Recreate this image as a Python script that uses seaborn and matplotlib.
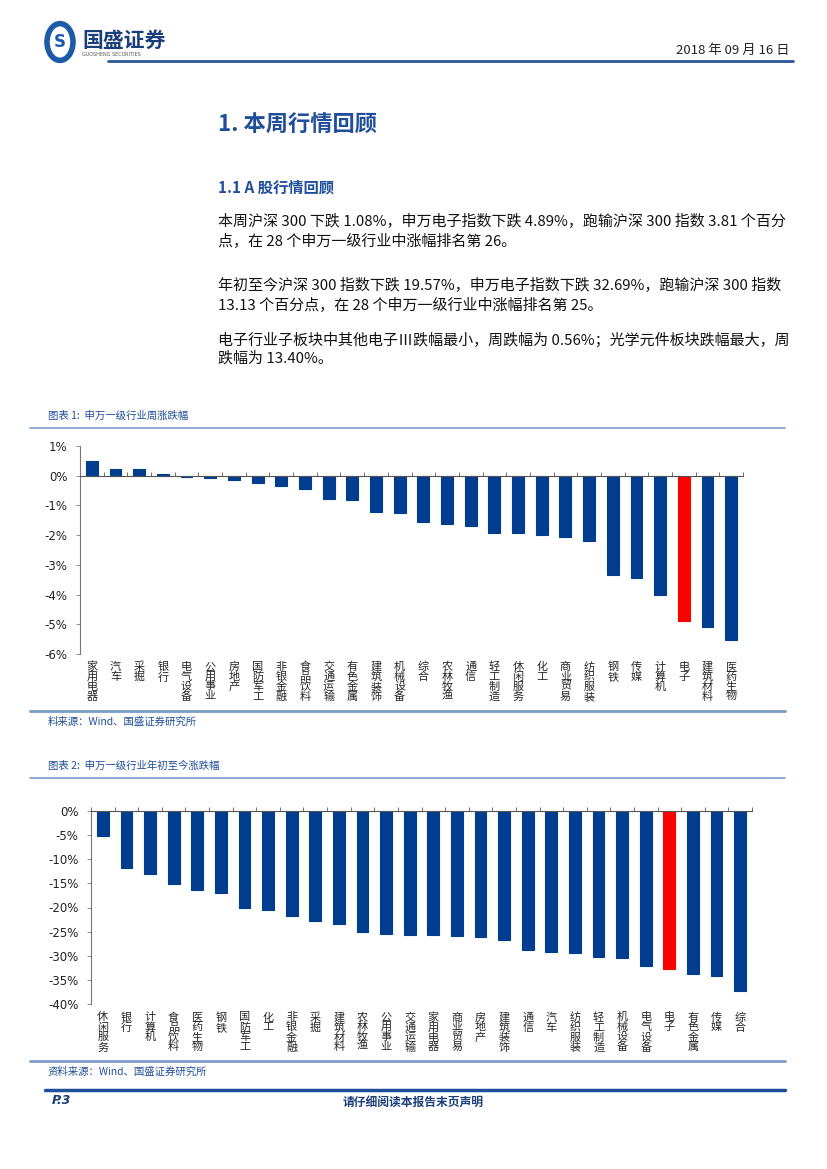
import numpy as np
import pandas as pd
import seaborn as sns
import matplotlib.pyplot as plt
from matplotlib.lines import Line2D
from matplotlib.patches import Circle

# ---- data ----
week_names = ['家用电器', '汽车', '采掘', '银行', '电气设备', '公用事业', '房地产', '国防军工',
              '非银金融', '食品饮料', '交通运输', '有色金属', '建筑装饰', '机械设备', '综合',
              '农林牧渔', '通信', '轻工制造', '休闲服务', '化工', '商业贸易', '纺织服装',
              '钢铁', '传媒', '计算机', '电子', '建筑材料', '医药生物']
week_chg = [0.48, 0.24, 0.22, 0.05, -0.05, -0.07, -0.14, -0.23, -0.34, -0.45, -0.78, -0.82,
            -1.21, -1.26, -1.57, -1.63, -1.70, -1.93, -1.94, -2.00, -2.05, -2.21,
            -3.35, -3.44, -4.03, -4.89, -5.08, -5.52]

ytd_names = ['休闲服务', '银行', '计算机', '食品饮料', '医药生物', '钢铁', '国防军工', '化工',
             '非银金融', '采掘', '建筑材料', '农林牧渔', '公用事业', '交通运输', '家用电器',
             '商业贸易', '房地产', '建筑装饰', '通信', '汽车', '纺织服装', '轻工制造',
             '机械设备', '电气设备', '电子', '有色金属', '传媒', '综合']
ytd_chg = [-5.1, -11.9, -13.0, -15.1, -16.4, -17.0, -20.1, -20.6, -21.8, -22.9, -23.4, -25.0,
           -25.5, -25.8, -25.8, -26.0, -26.2, -26.7, -28.9, -29.2, -29.4, -30.2, -30.5,
           -32.2, -32.69, -33.7, -34.1, -37.4]

week_ticks = [1, 0, -1, -2, -3, -4, -5, -6]
ytd_ticks = [0, -5, -10, -15, -20, -25, -30, -35, -40]

BLUE = '#003D8F'
RED = '#FF0000'
TXT_BLUE = '#1F4E9A'
LINE_BLUE = '#7A9CC6'

sns.set_style("white")
plt.rcParams['font.family'] = ['Noto Sans CJK SC', 'DejaVu Sans']

W, H = 827, 1169
fig = plt.figure(figsize=(W / 100, H / 100), dpi=100)


def fx(x):
    return x / W


def fy(y):
    return 1 - y / H


def hline(x0, x1, y, color, lw):
    fig.add_artist(Line2D([fx(x0), fx(x1)], [fy(y), fy(y)], color=color, lw=lw,
                          transform=fig.transFigure))


def text(x, y, s, **kw):
    fig.text(fx(x), fy(y), s, **kw)


# ---- header ----
fig.add_artist(Circle((fx(60), fy(42)), 13 / W, transform=fig.transFigure,
                      facecolor='white', edgecolor='#1B5BA8', lw=4))
text(60, 42, 'S', ha='center', va='center', fontsize=12, fontweight='bold',
     color='#1B5BA8', family='DejaVu Sans')
text(82, 40, '国盛证券', ha='left', va='center', fontsize=15, fontweight='bold', color='#1A3E7A')
text(82, 54, 'GUOSHENG SECURITIES', ha='left', va='center', fontsize=3.5, color='#555555',
     family='DejaVu Sans')
text(790, 50, '2018 年 09 月 16 日', ha='right', va='center', fontsize=9.5, color='#222222')
hline(108, 793, 61, '#2E5597', 2)

# ---- headings and paragraphs ----
text(218, 125, '1. 本周行情回顾', ha='left', va='center', fontsize=16, fontweight='bold', color=TXT_BLUE)
text(218, 188, '1.1 A 股行情回顾', ha='left', va='center', fontsize=11, fontweight='bold', color=TXT_BLUE)

para = [
    (222, '本周沪深 300 下跌 1.08%，申万电子指数下跌 4.89%，跑输沪深 300 指数 3.81 个百分'),
    (241, '点，在 28 个申万一级行业中涨幅排名第 26。'),
    (286, '年初至今沪深 300 指数下跌 19.57%，申万电子指数下跌 32.69%，跑输沪深 300 指数'),
    (305, '13.13 个百分点，在 28 个申万一级行业中涨幅排名第 25。'),
    (340, '电子行业子板块中其他电子Ⅲ跌幅最小，周跌幅为 0.56%；光学元件板块跌幅最大，周'),
    (358, '跌幅为 13.40%。'),
]
for y, s in para:
    text(218, y, s, ha='left', va='center', fontsize=10.8, color='#111111')


def bar_chart(left, right, top, bottom, names, vals, ylim, ticks, pad):
    ax = fig.add_axes([fx(left), fy(bottom), fx(right) - fx(left), (bottom - top) / H])
    df = pd.DataFrame({'name': names, 'val': vals})
    pal = {n: (RED if n == '电子' else BLUE) for n in names}
    sns.barplot(data=df, x='name', y='val', hue='name', palette=pal, legend=False,
                width=0.5, saturation=1, linewidth=0.8, ax=ax)
    for p in ax.patches:
        p.set_edgecolor(p.get_facecolor())
    ax.set_xlim(-0.5, len(names) - 0.5)
    ax.set_ylim(*ylim)
    ax.set_yticks(ticks)
    ax.set_yticklabels([f'{t}%' for t in ticks], family='DejaVu Sans', fontsize=8.5, color='#222222')
    ax.set_xticks(range(len(names)))
    ax.set_xticklabels(['\n'.join(n) for n in names], va='top', color='#222222')
    ax.set_xlabel('')
    ax.set_ylabel('')
    for s in ['top', 'right']:
        ax.spines[s].set_visible(False)
    ax.spines['bottom'].set_position(('data', 0))
    ax.spines['bottom'].set_color('#555555')
    ax.spines['bottom'].set_linewidth(0.8)
    ax.spines['left'].set_color('#777777')
    ax.spines['left'].set_linewidth(0.8)
    ax.set_xticks(np.arange(-0.5, len(names)), minor=True)
    ax.tick_params(axis='x', which='major', length=0, pad=pad)
    ax.tick_params(axis='x', which='minor', direction='in', length=3, width=0.6, color='#555555',
                   bottom=True)
    ax.tick_params(axis='y', direction='out', length=3, width=0.6, color='#777777', left=True, pad=6)
    ax.grid(False)
    for lbl in ax.get_xticklabels():
        lbl.set_fontsize(8)
        lbl.set_linespacing(0.97)
    return ax


# ---- chart 1 ----
text(48, 416, '图表 1:  申万一级行业周涨跌幅', ha='left', va='center', fontsize=7.5,
     style='italic', color=TXT_BLUE)
hline(30, 785, 428, LINE_BLUE, 1.2)
bar_chart(80, 743, 446, 654, week_names, week_chg, (-6, 1), week_ticks, 134)
hline(30, 785, 711, LINE_BLUE, 2)
text(48, 722, '料来源：Wind、国盛证券研究所', ha='left', va='center', fontsize=7.5,
     style='italic', color=TXT_BLUE)

# ---- chart 2 ----
text(48, 766, '图表 2:  申万一级行业年初至今涨跌幅', ha='left', va='center', fontsize=7.5,
     style='italic', color=TXT_BLUE)
hline(30, 785, 778, LINE_BLUE, 1.2)
bar_chart(91, 752, 811, 1004, ytd_names, ytd_chg, (-40, 0), ytd_ticks, 145)
hline(30, 785, 1061, LINE_BLUE, 2)
text(48, 1072, '资料来源：Wind、国盛证券研究所', ha='left', va='center', fontsize=7.5,
     style='italic', color=TXT_BLUE)

# ---- footer ----
hline(45, 785, 1090, '#1F4E9A', 2.5)
text(52, 1101, 'P.3', ha='left', va='center', fontsize=9, fontweight='bold', style='italic',
     color='#1A3E7A', family='DejaVu Sans')
text(413, 1102, '请仔细阅读本报告末页声明', ha='center', va='center', fontsize=8.5,
     fontweight='bold', color='#1A3E7A')

fig.savefig('out.png', dpi=100)
